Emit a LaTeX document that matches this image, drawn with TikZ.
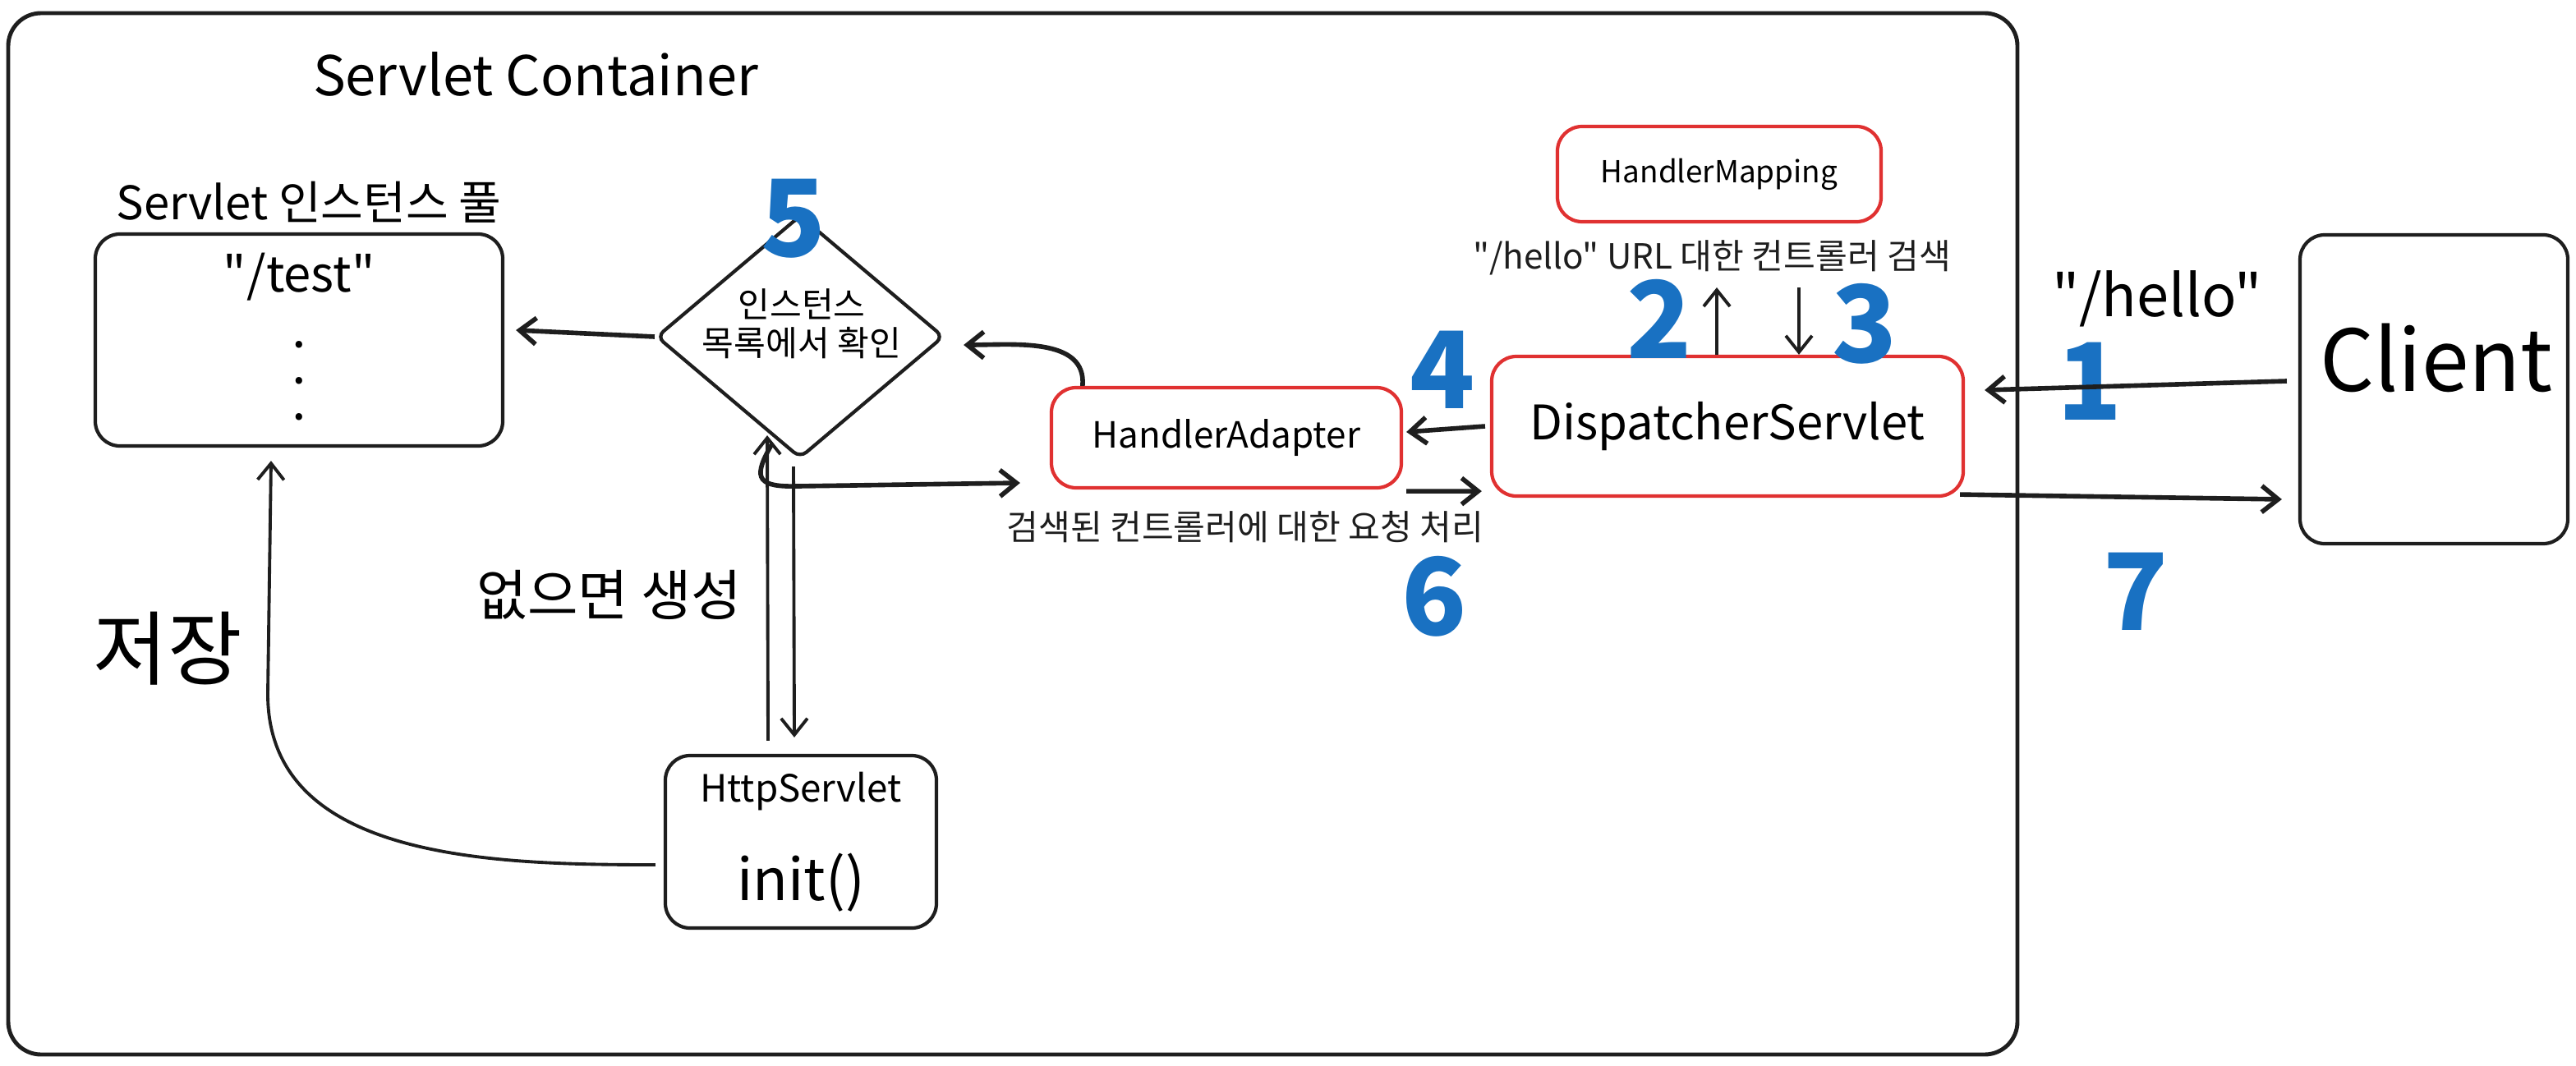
\documentclass[tikz,border=0pt]{standalone}
\usepackage{fontspec}
\setmainfont{Noto Sans CJK KR}[Ligatures=TeXOff]
\usetikzlibrary{shapes.geometric, arrows.meta}

\definecolor{ink}{HTML}{1E1E1E}
\definecolor{exred}{HTML}{E03131}
\definecolor{exblue}{HTML}{1971C2}

\tikzset{
    box/.style={draw=ink, line width=1.2pt, rounded corners=3mm, inner sep=0pt},
    redbox/.style={box, draw=exred},
    flow/.style={->, draw=ink, line width=1.6pt},
    thinflow/.style={->, draw=ink, line width=1.1pt},
    stepno/.style={text=exblue, font=\fontsize{37}{37}\selectfont\bfseries},
    note/.style={text=ink, font=\fontsize{12}{14}\selectfont},
}

\begin{document}
\begin{tikzpicture}[x=0.2mm, y=-0.2mm, >={Straight Barb[length=2mm,width=3.2mm]}]
    \useasboundingbox (0,0) rectangle (1568,649);

    % 1. Servlet Container
    \draw[ink, line width=1.4pt, rounded corners=4mm] (5,8) rectangle (1228,642);
    \node[font=\fontsize{19}{22}\selectfont] (title) at (326,45) {Servlet Container};

    % 2. Servlet 인스턴스 풀
    \node[font=\fontsize{16}{18}\selectfont] (pooltitle) at (188,123) {Servlet 인스턴스 풀};
    \node[box, minimum width=49.6mm, minimum height=25.8mm, align=center,
          font=\fontsize{11}{12.5}\selectfont\bfseries] (pool) at (182,207)
        {{\fontsize{17}{20}\mdseries\selectfont "/test"}\\[7pt] .\\ .\\ .\\[-10pt]~};

    % 3. 인스턴스 확인 (마름모)
    \node[diamond, draw=ink, line width=1.2pt, inner sep=0pt, rounded corners=1mm,
          minimum width=35mm, minimum height=29.6mm] (chk) at (487,205) {};
    \node[font=\fontsize{12}{13.5}\selectfont, align=center] (chktext) at (488,197)
        {인스턴스\\목록에서 확인};

    % 4. HttpServlet
    \node[box, minimum width=33mm, minimum height=21mm, align=center,
          font=\fontsize{20}{34}\selectfont] (http) at (487.5,512.5)
        {{\fontsize{13}{15}\selectfont HttpServlet}\\init()};

    % 5. HandlerAdapter, DispatcherServlet, HandlerMapping
    \node[redbox, minimum width=42.6mm, minimum height=12.2mm,
          font=\fontsize{12.5}{14}\selectfont] (ha) at (746.5,266.5) {HandlerAdapter};
    \node[redbox, minimum width=57.4mm, minimum height=17mm,
          font=\fontsize{16.5}{19}\selectfont] (disp) at (1051.5,259.5) {DispatcherServlet};
    \node[redbox, minimum width=39.4mm, minimum height=11.6mm,
          font=\fontsize{10.5}{12}\selectfont] (hm) at (1046.5,106) {HandlerMapping};

    % 6. Client
    \node[box, minimum width=32.6mm, minimum height=37.6mm] (client) at (1481.5,237) {};
    \node[font=\fontsize{29.5}{32}\selectfont] (clienttext) at (1483,218) {Client};

    % 7. 설명 텍스트
    \node[note] (find) at (1042,157) {"/hello" URL 대한 컨트롤러 검색};
    \node[note] (handle) at (758,321) {검색된 컨트롤러에 대한 요청 처리};
    \node[font=\fontsize{19}{21}\selectfont] (create) at (371,362) {없으면 생성};
    \node[font=\fontsize{28}{30}\selectfont] (save) at (102,395) {저장};
    \node[font=\fontsize{20}{22}\selectfont] (hello) at (1313,182) {"/hello"};

    % 8. 순서 번호
    \node[stepno] (n1) at (1272,232) {1};
    \node[stepno] (n2) at (1010,194) {2};
    \node[stepno] (n3) at (1135,197) {3};
    \node[stepno] (n4) at (878,225) {4};
    \node[stepno] (n5) at (483,133) {5};
    \node[stepno] (n6) at (873,363) {6};
    \node[stepno] (n7) at (1300,360) {7};

    % 9. 화살표
    \coordinate (up2) at (1045,175);
    \coordinate (dn3) at (1095,175);

    \draw[flow] ([shift={(-7,-5)}]client.west) -- ([shift={(12,-22)}]disp.east);
    \draw[thinflow] (up2 |- disp.north) -- (up2);
    \draw[thinflow] (dn3) -- (dn3 |- disp.north);
    \draw[flow] ([xshift=-0.6mm]disp.west) -- ([shift={(2,-3.5)}]ha.east);
    \draw[flow] ([xshift=4mm]ha.north west) to[out=85, in=0] ([shift={(11,5)}]chk.east);
    \draw[flow] (chk.west) -- ([shift={(7,-6)}]pool.east);
    \draw[thinflow] ([shift={(-4,4)}]chk.south) -- ([shift={(-4,-10)}]http.north);
    \draw[thinflow] ([shift={(-20,-8)}]http.north) -- ([shift={(-20,-15)}]chk.south);
    \draw[thinflow] ([shift={(-5,14)}]http.west) to[out=180, in=270]
        ([shift={(-19,150)}]pool.south) -- ([shift={(-17,8)}]pool.south);
    \draw[flow] ([shift={(-17,-10)}]chk.south) to[out=240, in=180, looseness=2]
        ([shift={(-5,16)}]chk.south) -- ([shift={(-18,27.5)}]ha.west);
    \draw[flow] ([shift={(2,1)}]ha.south east) -- ([shift={(-5,-4)}]disp.south west);
    \draw[flow] ([shift={(-3,-2)}]disp.south east) -- ([shift={(-10,67)}]client.west);

\end{tikzpicture}
\end{document}
